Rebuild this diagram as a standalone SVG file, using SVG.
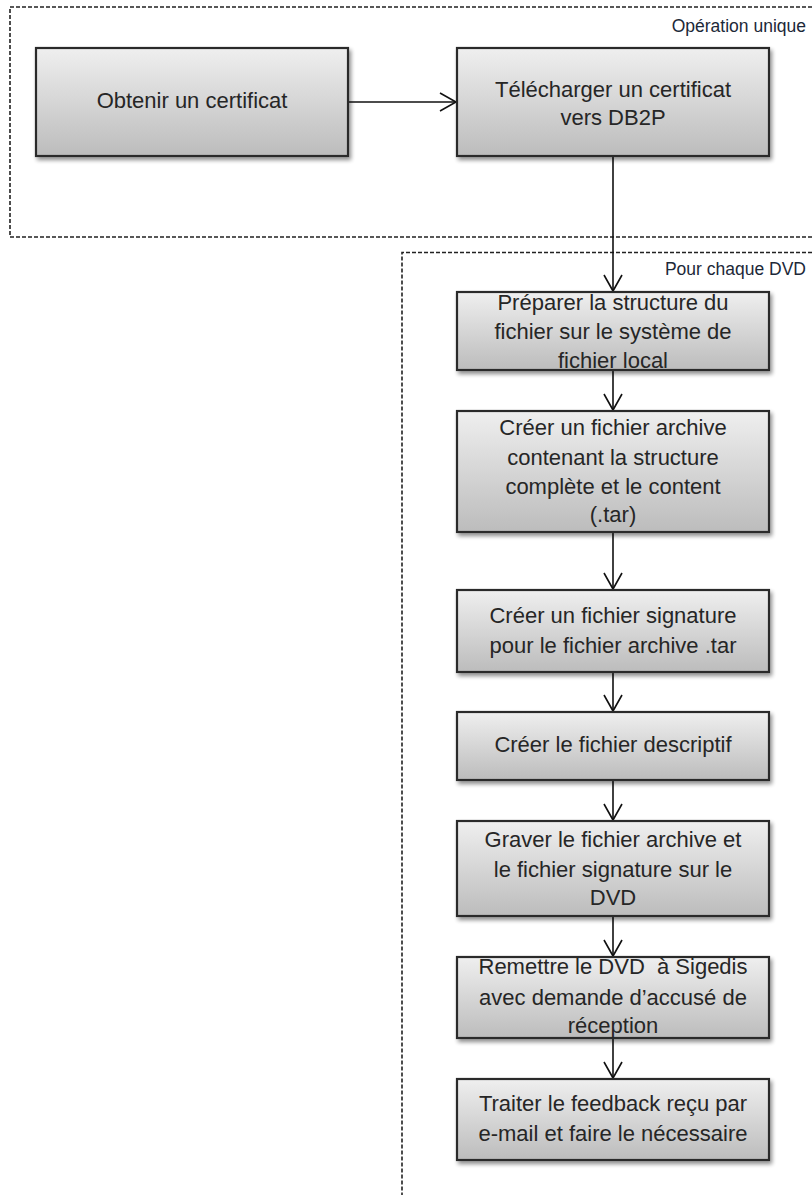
<svg xmlns="http://www.w3.org/2000/svg" width="812" height="1195" viewBox="0 0 812 1195">
<defs>
<linearGradient id="g" x1="0" y1="0" x2="0" y2="1">
<stop offset="0" stop-color="#efefef"/>
<stop offset="1" stop-color="#bcbcbc"/>
</linearGradient>
<filter id="sh" x="-10%" y="-10%" width="125%" height="135%">
<feGaussianBlur in="SourceAlpha" stdDeviation="2"/>
<feOffset dx="2" dy="3" result="b"/>
<feComponentTransfer><feFuncA type="linear" slope="0.45"/></feComponentTransfer>
<feMerge><feMergeNode/><feMergeNode in="SourceGraphic"/></feMerge>
</filter>
<marker id="ah" markerUnits="userSpaceOnUse" markerWidth="20" markerHeight="24" refX="17" refY="10" orient="auto" viewBox="0 0 20 20">
<path d="M1,1 L17,10 L1,19" fill="none" stroke="#111" stroke-width="1.6"/>
</marker>
<style>
.box{fill:url(#g);stroke:#2b2b2b;stroke-width:2.2;filter:url(#sh)}
.t{font-family:"Liberation Sans",Arial,sans-serif;font-size:22px;fill:#262626;text-anchor:middle}
.lbl{font-family:"Liberation Sans",Arial,sans-serif;font-size:17.5px;fill:#1c2838;text-anchor:end}
.dash{fill:none;stroke:#222;stroke-width:1.6;stroke-dasharray:4 2}
.c{stroke:#111;stroke-width:1.6;fill:none;marker-end:url(#ah)}
</style>
</defs>
<rect width="812" height="1195" fill="#fff"/>
<g id="groups">
<path class="dash" d="M812,7 H10 V237 H812"/>
<path class="dash" d="M812,252.5 H402 V1195"/>
<text class="lbl" x="806" y="32">Opération unique</text>
<text class="lbl" x="806" y="275">Pour chaque DVD</text>
</g>
<g id="connectors">
<line class="c" x1="348" y1="102" x2="456" y2="102"/>
<line class="c" x1="613" y1="156" x2="613" y2="291"/>
<line class="c" x1="613" y1="370" x2="613" y2="410"/>
<line class="c" x1="613" y1="532" x2="613" y2="589"/>
<line class="c" x1="613" y1="672" x2="613" y2="711"/>
<line class="c" x1="613" y1="780" x2="613" y2="820"/>
<line class="c" x1="613" y1="916" x2="613" y2="956"/>
<line class="c" x1="613" y1="1038" x2="613" y2="1078"/>
</g>
<g id="n1"><rect class="box" x="36" y="48" width="312" height="108"/>
<text class="t" x="192" y="108">Obtenir un certificat</text></g>
<g id="n2"><rect class="box" x="457" y="48" width="312" height="108"/>
<text class="t" x="613" y="97">Télécharger un certificat</text>
<text class="t" x="613" y="125">vers DB2P</text></g>
<g id="n3"><rect class="box" x="457" y="292" width="312" height="78"/>
<text class="t" x="613" y="310">Préparer la structure du</text>
<text class="t" x="613" y="339">fichier sur le système de</text>
<text class="t" x="613" y="368">fichier local</text></g>
<g id="n4"><rect class="box" x="457" y="411" width="312" height="121"/>
<text class="t" x="613" y="435">Créer un fichier archive</text>
<text class="t" x="613" y="465">contenant la structure</text>
<text class="t" x="613" y="494">complète et le content</text>
<text class="t" x="613" y="522">(.tar)</text></g>
<g id="n5"><rect class="box" x="457" y="590" width="312" height="82"/>
<text class="t" x="613" y="623">Créer un fichier signature</text>
<text class="t" x="613" y="653">pour le fichier archive .tar</text></g>
<g id="n6"><rect class="box" x="457" y="712" width="312" height="68"/>
<text class="t" x="613" y="752">Créer le fichier descriptif</text></g>
<g id="n7"><rect class="box" x="457" y="821" width="312" height="95"/>
<text class="t" x="613" y="847">Graver le fichier archive et</text>
<text class="t" x="613" y="877">le fichier signature sur le</text>
<text class="t" x="613" y="905">DVD</text></g>
<g id="n8"><rect class="box" x="457" y="957" width="312" height="81"/>
<text class="t" x="613" y="974">Remettre le DVD&#160; à Sigedis</text>
<text class="t" x="613" y="1005">avec demande d’accusé de</text>
<text class="t" x="613" y="1033">réception</text></g>
<g id="n9"><rect class="box" x="457" y="1079" width="312" height="81"/>
<text class="t" x="613" y="1111">Traiter le feedback reçu par</text>
<text class="t" x="613" y="1141">e-mail et faire le nécessaire</text></g>
</svg>
